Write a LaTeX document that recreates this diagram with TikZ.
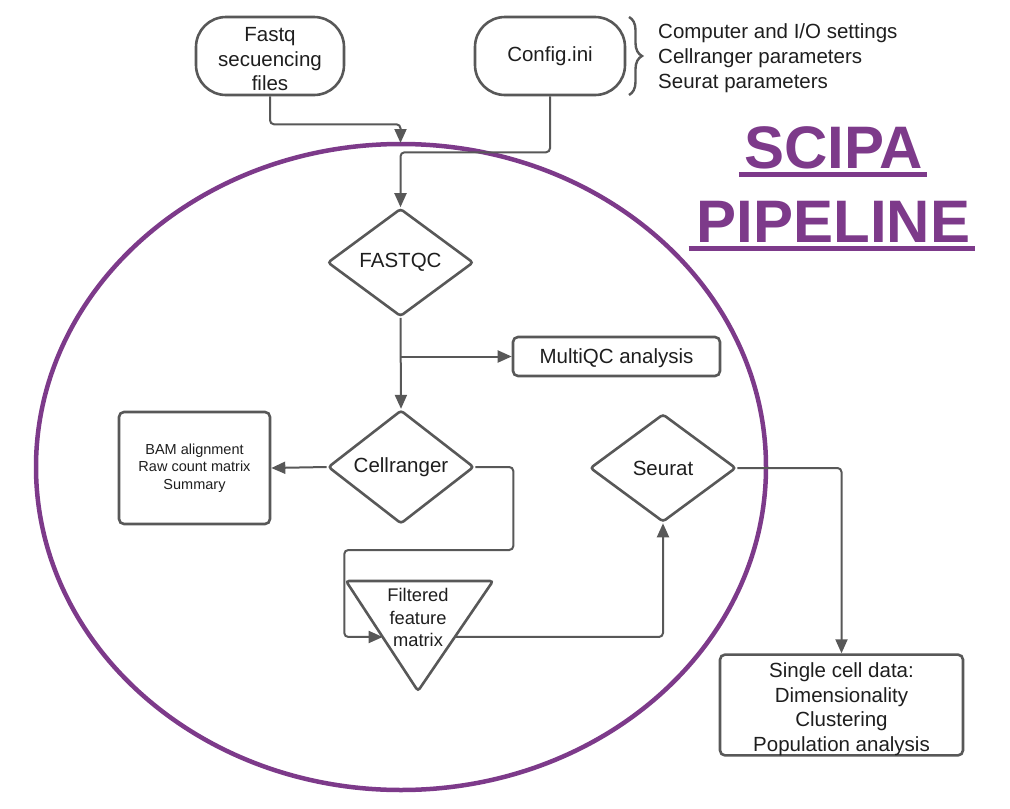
\documentclass[tikz,border=0pt]{standalone}
\usepackage{fontspec}
\setmainfont{Liberation Sans}
\usetikzlibrary{arrows.meta,calc,shapes.geometric,decorations.pathreplacing}

\definecolor{scipa}{RGB}{125,58,138}
\definecolor{edge}{RGB}{88,88,88}
\definecolor{ink}{RGB}{30,30,30}

\tikzset{
	base/.style={draw=edge, line width=2.6pt, text=ink, font=\fontsize{20.5}{24.5}\selectfont, align=center, inner sep=0pt},
	term/.style={base, rounded corners=30pt, minimum height=78pt},
	decision/.style={base, diamond, rounded corners=3pt, minimum width=146pt, minimum height=108pt},
	result/.style={base, rounded corners=5pt},
	flow/.style={draw=edge, line width=2pt, rounded corners=4pt, -{Triangle[length=14pt,width=12pt]}},
	title/.style={text=scipa, font=\fontsize{60}{60}\selectfont\bfseries, inner sep=0pt, anchor=base}
}

\begin{document}
\begin{tikzpicture}[x=1pt,y=-1pt]
		%%%%% START %%%%%
		\useasboundingbox (0,0) rectangle (1010,809);
		
		\draw[scipa, line width=4.5pt] (401,467) ellipse [x radius=365pt, y radius=323pt];
		
		\node[title] (scipa) at (833.5,168) {SCIPA};
		\draw[scipa, line width=5pt] ($(scipa.base west)+(-5,6)$) -- ($(scipa.base east)+(4,6)$);
		\node[title] (pipe) at (833.5,242) {PIPELINE};
		\draw[scipa, line width=5pt] ($(pipe.base west)+(-8,6)$) -- ($(pipe.base east)+(5,6)$);
		
		\node[term, minimum width=148pt] (fastq) at (270,56) {\rule{0pt}{21pt}Fastq\\secuencing\\files};
		\node[term, minimum width=150pt] (cfg) at (550,56) {Config.ini};
		\draw[edge, line width=2.4pt, decorate, decoration={brace, amplitude=13pt}] (629,17) -- (629,95);
		\node[text=ink, anchor=west, align=left, inner sep=0pt, font=\fontsize{20.5}{25}\selectfont] (opts) at (658,58)
			{Computer and I/O settings\\Cellranger parameters\\Seurat parameters};
		
		\node[decision] (fastqc) at (400.5,262.5) {FASTQC};
		\node[result, minimum width=207pt, minimum height=39pt] (mqc) at (616.5,356.5) {\rule{0pt}{19pt}MultiQC analysis};
		\node[decision] (cell) at (401,467) {Cellranger};
		\node[result, minimum width=151pt, minimum height=112pt, font=\fontsize{14.5}{17.5}\selectfont] (bam) at (194.5,468)
			{BAM alignment\\Raw count matrix\\Summary};
		\node[decision] (seurat) at (663,468) {Seurat};
		\node[result, minimum width=243pt, minimum height=98pt] (sc) at (841.5,705)
			{\rule{0pt}{23pt}Single cell data:\\Dimensionality\\Clustering\\Population analysis};
		
		% filtered matrix triangle
		\coordinate (tA) at (346,581);
		\coordinate (tB) at (493,581);
		\coordinate (tC) at (418,691);
		\draw[draw=edge, line width=2.6pt, rounded corners=3pt] (tA) -- (tB) -- (tC) -- cycle;
		\node[text=ink, align=center, inner sep=0pt, font=\fontsize{18.3}{22.5}\selectfont] (filt) at (418,617.5) {Filtered\\feature\\matrix};
		\coordinate (fin) at ($(tA)!0.509!(tC)$);
		\coordinate (fout) at ($(tB)!0.509!(tC)$);
		
		\coordinate (fq) at (400.5,143);
		\draw[flow] (fastq.south) -- ++(0,28) -| (fq);
		\draw[flow] (cfg.south) -- ++(0,56) -| (fastqc.north);
		\draw[flow] (fastqc.south) -- (cell.north);
		\draw[flow] (fastqc.south |- mqc.west) -- (mqc.west);
		\draw[flow] (cell.west) -- (bam.east);
		\draw[flow] (cell.east) -- ++(38,0) -- ++(0,83) -- ++(-169,0) |- (fin);
		\draw[flow] (fout) -| (seurat.south);
		\draw[flow] (seurat.east) -| (sc.north);
		%%%%% END %%%%%
	\end{tikzpicture}
\end{document}
